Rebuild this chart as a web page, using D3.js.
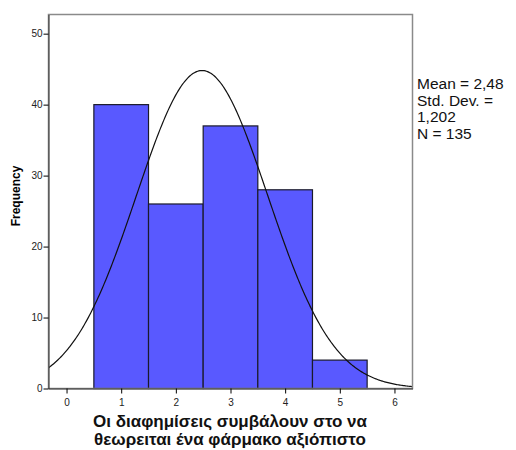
<!DOCTYPE html>
<html>
<head>
<meta charset="utf-8">
<script src="https://cdn.jsdelivr.net/npm/d3@7"></script>
<style>
  body { margin: 0; background: #fff; }
  svg { font-family: "Liberation Sans", Arial, sans-serif; }
</style>
</head>
<body>
<svg id="chart" width="516" height="450"></svg>
<script>
// histogram bins (value centre) and counts
var binCenters = [1, 2, 3, 4, 5];
var counts = [40, 26, 37, 28, 4];
var xTicks = [0, 1, 2, 3, 4, 5, 6];
var yTicks = [0, 10, 20, 30, 40, 50];
var statLines = ["Mean = 2,48", "Std. Dev. =", "1,202", "N = 135"];
var mean = 2.48, sd = 1.202, n = 135, binWidth = 1;

var margin = {top: 14.5, left: 48.5},
    width = 364,
    height = 374;

var svg = d3.select("#chart");
var g = svg.append("g")
    .attr("transform", "translate(" + margin.left + "," + margin.top + ")");

var x = d3.scaleLinear().domain([-0.33, 6.33]).range([0, width]);
var y = d3.scaleLinear().domain([0, 52.7]).range([height, 0]);

g.append("defs").append("clipPath").attr("id", "clip")
  .append("rect").attr("width", width).attr("height", height);

// bars
g.selectAll(".bar")
    .data(binCenters)
  .enter().append("rect")
    .attr("class", "bar")
    .attr("x", function(d) { return x(d - binWidth / 2); })
    .attr("width", function(d) { return x(d + binWidth / 2) - x(d - binWidth / 2); })
    .attr("y", function(d, i) { return y(counts[i]); })
    .attr("height", function(d, i) { return y(0) - y(counts[i]); })
    .attr("fill", "#5959ff")
    .attr("stroke", "#1a1a2a")
    .attr("stroke-width", 1.2);

// normal curve from the stated mean / sd
var curvePts = d3.range(-0.4, 6.41, 0.02).map(function(v) {
  var z = (v - mean) / sd;
  return [v, n * binWidth / (sd * Math.sqrt(2 * Math.PI)) * Math.exp(-0.5 * z * z)];
});

g.append("path")
    .datum(curvePts)
    .attr("clip-path", "url(#clip)")
    .attr("fill", "none")
    .attr("stroke", "#111")
    .attr("stroke-width", 1.2)
    .attr("d", d3.line()
      .x(function(d) { return x(d[0]); })
      .y(function(d) { return y(d[1]); }));

// frame
g.append("rect")
    .attr("width", width)
    .attr("height", height)
    .attr("fill", "none")
    .attr("stroke", "#8a8a8a")
    .attr("stroke-width", 1.5);

var xAxis = g.append("g")
    .attr("transform", "translate(0," + height + ")")
    .call(d3.axisBottom(x).tickValues(xTicks).tickFormat(d3.format("d")).tickSize(5).tickSizeOuter(0));
xAxis.select(".domain").attr("stroke", "#333");
xAxis.selectAll("text").attr("font-size", "10px").attr("fill", "#222").attr("dy", "0.9em");

var yAxis = g.append("g")
    .call(d3.axisLeft(y).tickValues(yTicks).tickSize(5).tickSizeOuter(0));
yAxis.select(".domain").attr("stroke", "#333");
yAxis.selectAll("text").attr("font-size", "10px").attr("fill", "#222").attr("dx", "0.2em");

svg.append("text")
    .attr("transform", "translate(20,196) rotate(-90)")
    .attr("text-anchor", "middle")
    .attr("font-size", "12px")
    .attr("font-weight", "bold")
    .text("Frequency");

var title = svg.append("text")
    .attr("text-anchor", "middle")
    .attr("font-size", "17px")
    .attr("font-weight", "bold")
    .attr("fill", "#111");
title.append("tspan").attr("x", 230).attr("y", 427).text("Οι διαφημίσεις συμβάλουν στο να");
title.append("tspan").attr("x", 230).attr("y", 445).text("θεωρειται ένα φάρμακο αξιόπιστο");

svg.selectAll(".stat")
    .data(statLines)
  .enter().append("text")
    .attr("class", "stat")
    .attr("x", 417)
    .attr("y", function(d, i) { return 89 + i * 16.5; })
    .attr("font-size", "15.5px")
    .attr("fill", "#111")
    .text(function(d) { return d; });
</script>
</body>
</html>
